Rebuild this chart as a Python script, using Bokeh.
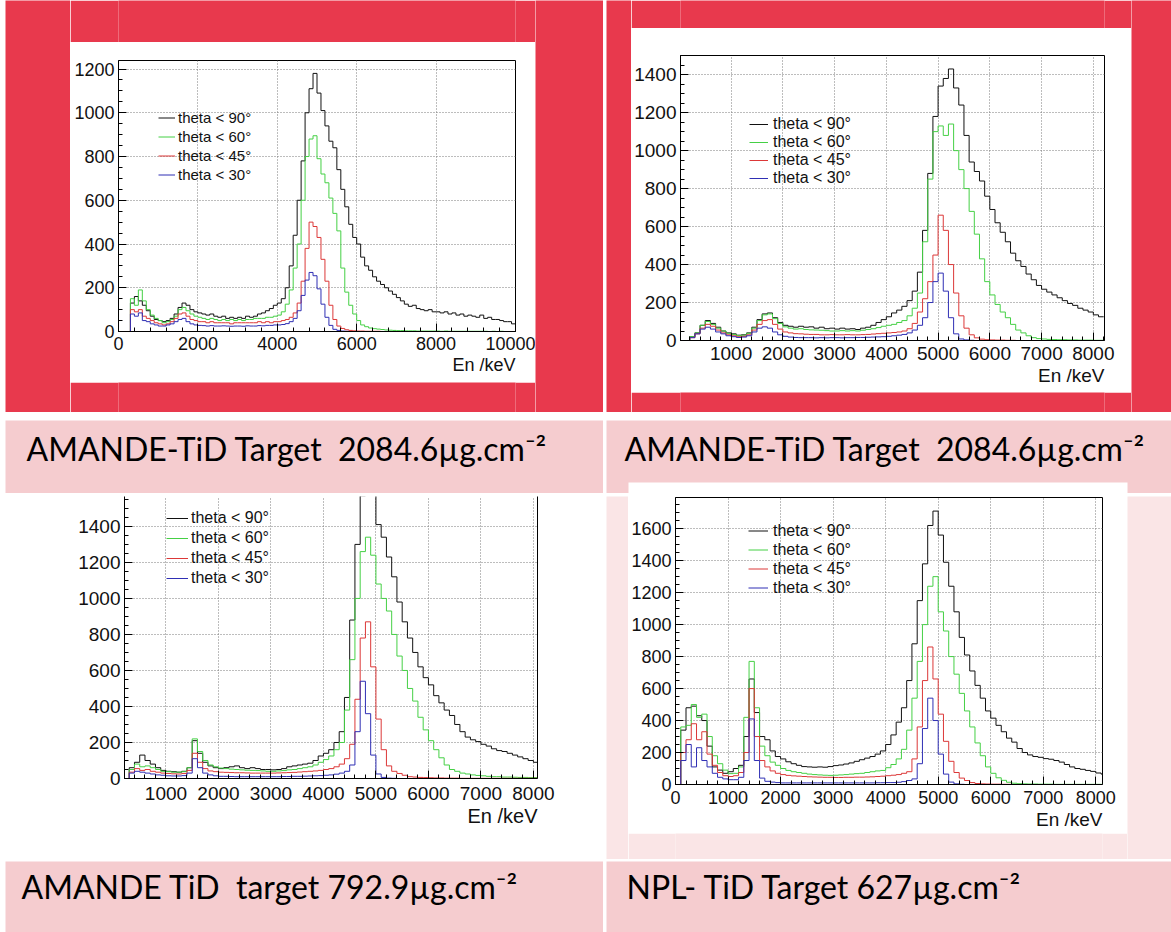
import numpy as np
from bokeh.plotting import figure
from bokeh.layouts import row, column
from bokeh.models import (Range1d, SingleIntervalTicker, LinearAxis, Legend, LegendItem,
                          Label, BoxAnnotation, FixedTicker, Title)
from bokeh.embed import file_html
from bokeh.resources import INLINE
from bokeh.core.validation import silence
from bokeh.core.validation.warnings import MISSING_RENDERERS

silence(MISSING_RENDERERS, True)

# ------------------------------------------------------------------ data
BIN_KEV = 100  # histogram bin width (keV); bins start at 0 keV
LEGEND_LABELS = ["theta < 90°", "theta < 60°", "theta < 45°", "theta < 30°"]
X_TITLE = "En /keV"
CAPTIONS = [
    "AMANDE-TiD Target \u00a02084.6µg.cm⁻²",
    "AMANDE-TiD Target \u00a02084.6µg.cm⁻²",
    "AMANDE TiD \u00a0target 792.9µg.cm⁻²",
    "NPL- TiD Target 627µg.cm⁻²",
]

# panel 1 (top-left)
tl_black = [0, 0, 0, 130, 160, 140, 120, 95, 70, 55,
            50, 45, 50, 60, 80, 110, 130, 120, 100, 90,
            85, 80, 75, 80, 70, 65, 70, 60, 65, 60,
            65, 60, 70, 65, 70, 80, 85, 95, 105, 120,
            130, 150, 200, 300, 440, 600, 780, 1000, 1110, 1180,
            1090, 1010, 940, 870, 840, 740, 650, 570, 490, 430,
            400, 340, 300, 280, 250, 230, 215, 200, 185, 170,
            155, 140, 125, 115, 120, 105, 100, 95, 100, 90,
            90, 85, 90, 80, 85, 75, 80, 70, 75, 70,
            65, 75, 60, 65, 55, 55, 50, 45, 45, 35]
tl_green = [0, 0, 0, 150, 120, 190, 140, 100, 75, 60,
            50, 40, 45, 55, 70, 100, 110, 95, 80, 70,
            65, 60, 55, 60, 55, 50, 55, 50, 55, 50,
            55, 50, 55, 55, 60, 60, 60, 65, 65, 70,
            75, 90, 125, 190, 290, 400, 600, 800, 880, 895,
            790, 720, 680, 610, 540, 460, 290, 180, 120, 80,
            50, 30, 22, 16, 13, 11, 9, 7, 6, 5,
            4, 4, 3, 3, 3, 2, 2, 2, 2, 2,
            2, 1, 2, 1, 1, 1, 1, 1, 1, 1,
            1, 1, 1, 0, 1, 0, 1, 0, 0, 0]
tl_red = [0, 0, 0, 100, 90, 100, 70, 60, 50, 40,
          35, 30, 35, 45, 60, 80, 85, 70, 55, 50,
          45, 45, 40, 45, 40, 40, 40, 40, 35, 40,
          40, 40, 40, 40, 40, 45, 40, 45, 40, 45,
          45, 50, 55, 65, 85, 130, 230, 380, 500, 480,
          430, 330, 230, 120, 55, 25, 14, 8, 5, 3,
          2, 2, 1, 1, 1, 1, 0, 0, 0, 0,
          0, 0, 0, 0, 0, 0, 0, 0, 0, 0,
          0, 0, 0, 0, 0, 0, 0, 0, 0, 0,
          0, 0, 0, 0, 0, 0, 0, 0, 0, 0]
tl_blue = [0, 0, 0, 80, 70, 85, 50, 45, 35, 30,
           25, 25, 30, 35, 45, 55, 60, 45, 35, 30,
           28, 27, 25, 27, 25, 25, 26, 25, 24, 25,
           25, 24, 26, 25, 25, 27, 26, 28, 28, 30,
           30, 32, 36, 45, 60, 95, 165, 235, 270, 255,
           195, 125, 65, 28, 10, 5, 2, 1, 0, 0,
           0, 0, 0, 0, 0, 0, 0, 0, 0, 0,
           0, 0, 0, 0, 0, 0, 0, 0, 0, 0,
           0, 0, 0, 0, 0, 0, 0, 0, 0, 0,
           0, 0, 0, 0, 0, 0, 0, 0, 0, 0]

# panel 2 (top-right)
tr_black = [0, 0, 20, 40, 80, 105, 90, 70, 50, 40,
            35, 28, 30, 40, 70, 110, 140, 145, 120, 95,
            80, 75, 70, 75, 70, 72, 65, 70, 62, 65,
            60, 65, 60, 62, 58, 65, 70, 80, 95, 110,
            125, 145, 160, 180, 210, 260, 360, 580, 880, 1180,
            1340, 1380, 1430, 1330, 1240, 1080, 940, 890, 840, 760,
            690, 620, 570, 520, 460, 420, 390, 350, 320, 290,
            270, 255, 240, 225, 210, 195, 185, 170, 160, 150,
            135, 125]
tr_green = [0, 0, 20, 40, 80, 100, 85, 65, 50, 38,
            32, 26, 28, 38, 65, 105, 135, 140, 115, 90,
            72, 65, 60, 62, 58, 56, 55, 54, 52, 50,
            50, 52, 50, 52, 50, 54, 58, 62, 68, 75,
            80, 85, 95, 105, 130, 170, 250, 520, 850, 1100,
            1130, 1080, 1140, 1000, 900, 800, 680, 560, 430, 310,
            240, 190, 150, 120, 85, 55, 40, 25, 15, 10,
            8, 6, 5, 4, 4, 3, 3, 2, 2, 2,
            1, 1]
tr_red = [0, 0, 15, 35, 65, 85, 75, 55, 40, 30,
          25, 20, 22, 30, 55, 85, 105, 110, 85, 60,
          45, 40, 36, 35, 33, 32, 32, 30, 30, 31,
          30, 30, 31, 30, 30, 31, 32, 34, 36, 38,
          40, 42, 45, 50, 62, 90, 150, 220, 310, 450,
          660, 580, 400, 250, 130, 65, 30, 14, 7, 4,
          3, 2, 2, 1, 1, 0, 0, 0, 0, 0,
          0, 0, 0, 0, 0, 0, 0, 0, 0, 0,
          0, 0]
tr_blue = [0, 0, 15, 35, 60, 70, 60, 45, 35, 25,
           20, 16, 18, 25, 45, 65, 72, 65, 45, 30,
           22, 18, 16, 15, 15, 15, 14, 15, 14, 15,
           15, 14, 15, 15, 16, 16, 17, 18, 19, 20,
           22, 25, 28, 32, 40, 55, 80, 120, 200, 310,
           355, 260, 120, 35, 8, 3, 1, 0, 0, 0,
           0, 0, 0, 0, 0, 0, 0, 0, 0, 0,
           0, 0, 0, 0, 0, 0, 0, 0, 0, 0,
           0, 0]

# panel 3 (bottom-left)
bl_black = [0, 0, 0, 60, 90, 130, 100, 80, 60, 45,
            40, 38, 35, 40, 60, 210, 140, 90, 70, 60,
            55, 60, 65, 70, 60, 55, 60, 55, 50, 50,
            48, 50, 55, 65, 70, 75, 80, 85, 100, 125,
            140, 160, 200, 260, 450, 880, 1300, 1570, 1650, 1580,
            1410, 1340, 1230, 1120, 980, 870, 780, 700, 620, 560,
            520, 460, 420, 380, 350, 300, 260, 230, 215, 205,
            190, 180, 165, 155, 150, 140, 130, 120, 110, 100,
            90]
bl_green = [0, 0, 0, 50, 80, 65, 70, 60, 50, 40,
            38, 35, 35, 38, 60, 220, 150, 100, 75, 65,
            58, 55, 52, 50, 48, 46, 45, 44, 42, 40,
            40, 42, 44, 48, 50, 55, 60, 65, 75, 90,
            105, 125, 160, 200, 380, 660, 1000, 1260, 1340, 1240,
            1080, 1000, 930, 800, 680, 600, 500, 430, 340, 270,
            210, 160, 115, 75, 50, 40, 30, 25, 20, 17,
            15, 12, 10, 10, 8, 8, 7, 6, 6, 5,
            5]
bl_red = [0, 0, 0, 35, 55, 45, 50, 40, 35, 30,
          28, 26, 25, 28, 45, 140, 90, 55, 42, 38,
          35, 34, 33, 32, 32, 31, 30, 30, 30, 30,
          30, 31, 32, 33, 34, 36, 38, 40, 42, 45,
          50, 55, 65, 80, 110, 190, 440, 780, 870, 620,
          330, 160, 70, 40, 28, 18, 10, 8, 6, 5,
          4, 3, 3, 2, 2, 2, 1, 1, 1, 1,
          1, 1, 1, 1, 1, 1, 1, 1, 1, 1,
          1]
bl_blue = [0, 0, 0, 30, 40, 35, 30, 25, 20, 18,
           15, 14, 14, 16, 30, 110, 60, 30, 20, 15,
           12, 12, 11, 10, 10, 10, 10, 10, 10, 10,
           10, 10, 11, 11, 12, 12, 13, 14, 15, 16,
           18, 20, 24, 30, 40, 75, 260, 540, 360, 130,
           25, 6, 2, 1, 0, 0, 0, 0, 0, 0,
           0, 0, 0, 0, 0, 0, 0, 0, 0, 0,
           0, 0, 0, 0, 0, 0, 0, 0, 0, 0,
           0]

# panel 4 (bottom-right)
br_black = [0, 340, 480, 490, 430, 400, 240, 110, 90, 70,
            80, 100, 120, 300, 660, 450, 300, 280, 210, 175,
            160, 142, 130, 120, 112, 110, 108, 110, 108, 112,
            118, 122, 128, 135, 145, 155, 165, 175, 190, 210,
            250, 310, 390, 480, 650, 880, 1150, 1380, 1620, 1710,
            1560, 1390, 1240, 1080, 920, 810, 710, 620, 540, 460,
            415, 370, 330, 290, 265, 225, 200, 185, 175, 170,
            162, 158, 150, 140, 125, 110, 100, 95, 88, 82,
            72, 65]
br_green = [0, 360, 370, 500, 420, 440, 300, 180, 130, 90,
            68, 70, 110, 420, 770, 480, 240, 180, 140, 120,
            100, 88, 80, 75, 70, 65, 62, 60, 58, 57,
            58, 60, 62, 65, 68, 70, 75, 80, 85, 88,
            105, 125, 160, 220, 340, 540, 770, 1000, 1240, 1300,
            1080, 960, 800, 690, 570, 460, 360, 260, 180, 110,
            70, 42, 26, 14, 8, 5, 4, 3, 3, 2,
            2, 2, 1, 1, 1, 1, 1, 1, 1, 1,
            1, 1]
br_red = [0, 200, 280, 380, 280, 330, 190, 120, 75, 55,
          50, 55, 75, 200, 600, 300, 150, 110, 85, 70,
          62, 57, 54, 52, 50, 48, 47, 46, 45, 45,
          44, 44, 45, 45, 46, 46, 47, 48, 50, 52,
          55, 58, 62, 70, 80, 160, 360, 650, 860, 660,
          440, 270, 145, 75, 40, 25, 12, 6, 4, 3,
          2, 2, 1, 1, 0, 0, 0, 0, 0, 0,
          0, 0, 0, 0, 0, 0, 0, 0, 0, 0,
          0, 0]
br_blue = [0, 150, 250, 110, 230, 150, 110, 70, 45, 35,
           30, 30, 45, 150, 410, 150, 40, 20, 15, 12,
           10, 10, 10, 10, 10, 10, 10, 10, 10, 10,
           10, 10, 10, 10, 10, 10, 10, 10, 11, 11,
           12, 12, 14, 18, 25, 35, 130, 350, 540, 400,
           190, 65, 15, 4, 1, 0, 0, 0, 0, 0,
           0, 0, 0, 0, 0, 0, 0, 0, 0, 0,
           0, 0, 0, 0, 0, 0, 0, 0, 0, 0,
           0, 0]

# ------------------------------------------------------------------ style
SERIES_COLORS = ["#111111", "#45d045", "#dc3838", "#2f2fb4"]
RED = "#E8394D"
PINK = "#F5CCCF"
LIGHT = "#FAE5E6"
WHITE = "#FFFFFF"
TICK_FONT = "Liberation Sans"
NARROW_FONT = "Liberation Sans Narrow, Liberation Sans"
CAPTION_FONT = "Lato"

PANELS = {
    "tl": dict(w=465, h=340, mb=(48, 20, 18, 51), xr=(0, 10000), yr=(0, 1239), xint=2000,
               outline=True, leg=(40, 147), row_h=19, gw=17, gs=3, leg_size="15px",
               xl="18px", yl="18px", yfont=TICK_FONT, xl_off=5, title="18px", title_off=0),
    "tr": dict(w=500, h=364, mb=(48, 27, 27, 52), xr=(22, 8216), yr=(0, 1501), xint=1000,
               outline=True, leg=(69, 153), row_h=18, gw=19, gs=5, leg_size="16px",
               xl="19px", yl="19px", yfont=NARROW_FONT, xl_off=6, title="19px", title_off=0),
    "bl": dict(w=598, h=363, mb=(119, 66, 0, 81), xr=(210, 8078), yr=(0, 1566), xint=1000,
               outline=False, leg=(42, 190), row_h=20, gw=22, gs=3, leg_size="16px",
               xl="19px", yl="19px", yfont=NARROW_FONT, xl_off=8, title="20px", title_off=0),
    "br": dict(w=499, h=337, mb=(47, 25, 1, 49), xr=(0, 8127), yr=(0, 1795), xint=1000,
               outline=True, leg=(73, 187), row_h=19, gw=20, gs=5, leg_size="16px",
               xl="18px", yl="18px", yfont=NARROW_FONT, xl_off=6, title="19px", title_off=0),
}


def block(w, h, color):
    return figure(width=w, height=h, title=None, toolbar_location=None, output_backend="svg",
                  x_axis_type=None, y_axis_type=None, min_border=0,
                  background_fill_color=color, border_fill_color=color, outline_line_color=None)


def caption_cell(w, h, text, tx, ty, bar=None):
    f = figure(width=w, height=h, title=None, toolbar_location=None, output_backend="svg",
               x_range=Range1d(0, w), y_range=Range1d(h, 0),
               x_axis_type=None, y_axis_type=None, min_border=0,
               background_fill_color=PINK, border_fill_color=PINK, outline_line_color=None)
    if bar is not None:
        f.add_layout(BoxAnnotation(left=bar[0], right=bar[1], top=bar[2], bottom=bar[3],
                                   fill_color=WHITE, fill_alpha=1.0, line_alpha=0.0))
    f.add_layout(Label(x=tx, y=ty, text=text, text_font=CAPTION_FONT, text_font_size="32px",
                       text_baseline="middle", text_color="#000000"))
    return f


def chart(cfg, series):
    p = figure(width=cfg["w"], height=cfg["h"], title=None, toolbar_location=None,
               output_backend="svg", x_range=Range1d(*cfg["xr"]), y_range=Range1d(*cfg["yr"]),
               min_border_left=cfg["mb"][0], min_border_right=cfg["mb"][1],
               min_border_top=cfg["mb"][2], min_border_bottom=cfg["mb"][3],
               background_fill_color=WHITE, border_fill_color=WHITE,
               outline_line_color="#000000" if cfg["outline"] else None, outline_line_width=1)
    xt = SingleIntervalTicker(interval=cfg["xint"], num_minor_ticks=5)
    yt = SingleIntervalTicker(interval=200, num_minor_ticks=4)
    p.xaxis.ticker = xt
    p.yaxis.ticker = yt
    p.xgrid.ticker = xt
    p.ygrid.ticker = yt
    p.grid.grid_line_color = "#7a7a7a"
    p.grid.grid_line_dash = "1 2"
    p.grid.grid_line_width = 1
    for ax in (p.xaxis[0], p.yaxis[0]):
        ax.major_tick_in = 8
        ax.major_tick_out = 0
        ax.minor_tick_in = 4
        ax.minor_tick_out = 0
        ax.axis_line_color = "#000000"
        ax.major_tick_line_color = "#000000"
        ax.minor_tick_line_color = "#000000"
        ax.major_label_text_color = "#111111"
    xa = p.xaxis[0]
    xa.major_label_text_font = TICK_FONT
    xa.major_label_text_font_size = cfg["xl"]
    xa.major_label_standoff = cfg["xl_off"]
    ya = p.yaxis[0]
    ya.major_label_text_font = cfg["yfont"]
    ya.major_label_text_font_size = cfg["yl"]
    ya.major_label_standoff = 4

    # axis title, right-aligned with the end of the x axis (ROOT style)
    p.add_layout(Title(text=X_TITLE, align="right", text_font=TICK_FONT,
                       text_font_size=cfg["title"], text_font_style="normal",
                       text_color="#111111", standoff=cfg["title_off"]), "below")

    if not cfg["outline"]:
        ra = LinearAxis(ticker=FixedTicker(ticks=[]), major_label_text_font_size="0px",
                        major_tick_in=0, major_tick_out=0, minor_tick_in=0, minor_tick_out=0,
                        axis_line_color="#000000")
        p.add_layout(ra, "right")

    rends = []
    for vals, color in zip(series, SERIES_COLORS):
        edges = BIN_KEV * np.arange(len(vals) + 1)
        yv = list(vals) + [vals[-1]]
        r = p.step(x=edges, y=yv, mode="after", line_color=color, line_width=1)
        rends.append(r)

    lg = Legend(items=[LegendItem(label=l, renderers=[r]) for l, r in zip(LEGEND_LABELS, rends)],
                location=cfg["leg"], orientation="vertical", padding=0, margin=0, spacing=0,
                glyph_width=cfg["gw"], glyph_height=cfg["row_h"], label_height=cfg["row_h"],
                label_standoff=cfg["gs"], label_text_font=TICK_FONT,
                label_text_font_size=cfg["leg_size"], label_text_color="#111111",
                border_line_color=None, background_fill_alpha=0.0)
    p.add_layout(lg)
    return p


tl = chart(PANELS["tl"], [tl_black, tl_green, tl_red, tl_blue])
tr = chart(PANELS["tr"], [tr_black, tr_green, tr_red, tr_blue])
bl = chart(PANELS["bl"], [bl_black, bl_green, bl_red, bl_blue])
br = chart(PANELS["br"], [br_black, br_green, br_red, br_blue])

row_a = row(
    row(block(65, 412, RED),
        column(block(465, 42, RED), tl, block(465, 30, RED)),
        block(68, 412, RED)),
    block(3, 412, WHITE),
    row(block(25, 412, RED),
        column(block(500, 28, RED), tr, block(500, 20, RED)),
        block(40, 412, RED)),
)

row_b = row(caption_cell(598, 73, CAPTIONS[0], 21, 27.5),
            block(3, 73, WHITE),
            caption_cell(565, 73, CAPTIONS[1], 18, 27.5, bar=(22, 521, 62, 73)))

row_c = row(bl, block(3, 363, WHITE),
            row(block(22, 363, LIGHT),
                column(br, block(499, 26, LIGHT)),
                block(44, 363, LIGHT)))

row_d = row(caption_cell(598, 71, CAPTIONS[2], 16, 24.5),
            block(3, 71, WHITE),
            caption_cell(565, 71, CAPTIONS[3], 20, 24.5))

content = column(row_a, block(1166, 8, WHITE), row_b, block(1166, 3, WHITE),
                 row_c, block(1166, 2, WHITE), row_d)
page = row(block(5, 932, WHITE), content)

with open("out.html", "w") as fh:
    fh.write(file_html(page, INLINE))
